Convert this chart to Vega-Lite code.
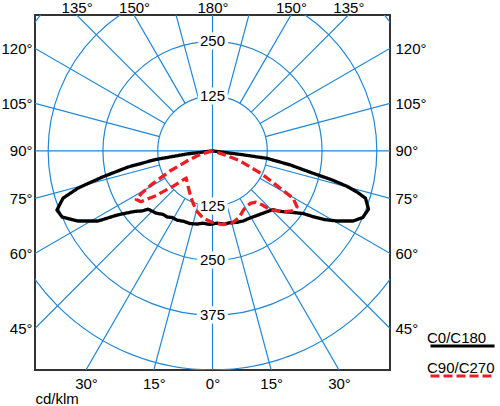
{
  "$schema": "https://vega.github.io/schema/vega-lite/v6.json",
  "width": 355,
  "height": 355,
  "autosize": {"type": "none"},
  "padding": {"left": 35, "top": 15, "right": 110, "bottom": 36},
  "resolve": {"axis": {"x": "independent", "y": "independent"}},
  "layer": [
    {
      "data": {"values": [{"ring": 125}, {"ring": 250}, {"ring": 375}, {"ring": 500}]},
      "mark": {"type": "arc", "filled": false, "stroke": "#1f86d6", "strokeWidth": 1.2, "theta": 0, "theta2": 6.2832, "clip": true},
      "encoding": {
        "x": {"datum": 0, "type": "quantitative", "scale": {"domain": [-405, 405], "nice": false, "zero": false}, "axis": null},
        "y": {"datum": 0, "type": "quantitative", "scale": {"domain": [-500, 310], "nice": false, "zero": false}, "axis": null},
        "radius": {"field": "ring", "type": "quantitative", "stack": null, "scale": {"type": "linear", "domain": [0, 810], "range": [0, 355], "zero": true}, "legend": null}
      }
    },
    {
      "data": {
        "values": [
          {"gamma": 0, "x0": 0, "y0": -1000, "x1": 0, "y1": 1000},
          {"gamma": 90, "x0": -1000, "y0": 0, "x1": 1000, "y1": 0},
          {"gamma": 15, "x0": -32.35, "y0": -120.74, "x1": -258.82, "y1": -965.93},
          {"gamma": 15, "x0": 32.35, "y0": -120.74, "x1": 258.82, "y1": -965.93},
          {"gamma": 30, "x0": -62.5, "y0": -108.25, "x1": -500, "y1": -866.03},
          {"gamma": 30, "x0": 62.5, "y0": -108.25, "x1": 500, "y1": -866.03},
          {"gamma": 45, "x0": -88.39, "y0": -88.39, "x1": -707.11, "y1": -707.11},
          {"gamma": 45, "x0": 88.39, "y0": -88.39, "x1": 707.11, "y1": -707.11},
          {"gamma": 60, "x0": -108.25, "y0": -62.5, "x1": -866.03, "y1": -500},
          {"gamma": 60, "x0": 108.25, "y0": -62.5, "x1": 866.03, "y1": -500},
          {"gamma": 75, "x0": -120.74, "y0": -32.35, "x1": -965.93, "y1": -258.82},
          {"gamma": 75, "x0": 120.74, "y0": -32.35, "x1": 965.93, "y1": -258.82},
          {"gamma": 105, "x0": -120.74, "y0": 32.35, "x1": -965.93, "y1": 258.82},
          {"gamma": 105, "x0": 120.74, "y0": 32.35, "x1": 965.93, "y1": 258.82},
          {"gamma": 120, "x0": -108.25, "y0": 62.5, "x1": -866.03, "y1": 500},
          {"gamma": 120, "x0": 108.25, "y0": 62.5, "x1": 866.03, "y1": 500},
          {"gamma": 135, "x0": -88.39, "y0": 88.39, "x1": -707.11, "y1": 707.11},
          {"gamma": 135, "x0": 88.39, "y0": 88.39, "x1": 707.11, "y1": 707.11},
          {"gamma": 150, "x0": -62.5, "y0": 108.25, "x1": -500, "y1": 866.03},
          {"gamma": 150, "x0": 62.5, "y0": 108.25, "x1": 500, "y1": 866.03},
          {"gamma": 165, "x0": -32.35, "y0": 120.74, "x1": -258.82, "y1": 965.93},
          {"gamma": 165, "x0": 32.35, "y0": 120.74, "x1": 258.82, "y1": 965.93}
        ]
      },
      "mark": {"type": "rule", "stroke": "#1f86d6", "strokeWidth": 1.2, "clip": true},
      "encoding": {
        "x": {
          "field": "x0", "type": "quantitative",
          "scale": {"domain": [-405, 405], "nice": false, "zero": false},
          "axis": {
            "orient": "bottom",
            "values": [-288.68, -133.97, 0, 133.97, 288.68],
            "labelExpr": "round(atan(abs(datum.value) / 500) * 180 / PI) + '°'",
            "labelPadding": 6,
            "title": "cd/klm",
            "titleAnchor": "start",
            "titleAlign": "left",
            "titlePadding": 0
          }
        },
        "x2": {"field": "x1"},
        "y": {
          "field": "y0", "type": "quantitative",
          "scale": {"domain": [-500, 310], "nice": false, "zero": false},
          "axis": {
            "orient": "left",
            "values": [-405, -233.83, -108.52, 0, 108.52, 233.83],
            "labelExpr": "round(90 + atan(datum.value / 405) * 180 / PI) + '°'",
            "labelPadding": 3,
            "title": null
          }
        },
        "y2": {"field": "y1"}
      }
    },
    {
      "data": {
        "values": [
          {"label": "250", "ring": 250},
          {"label": "125", "ring": 125},
          {"label": "125", "ring": -125},
          {"label": "250", "ring": -250},
          {"label": "375", "ring": -375}
        ]
      },
      "mark": {"type": "text", "fontSize": 15, "stroke": "white", "strokeWidth": 7, "fill": "white", "align": "center", "baseline": "middle"},
      "encoding": {
        "x": {"datum": 0, "type": "quantitative", "axis": null},
        "y": {"field": "ring", "type": "quantitative", "axis": null},
        "text": {"field": "label"}
      }
    },
    {
      "data": {
        "values": [
          {"label": "250", "ring": 250},
          {"label": "125", "ring": 125},
          {"label": "125", "ring": -125},
          {"label": "250", "ring": -250},
          {"label": "375", "ring": -375}
        ]
      },
      "mark": {"type": "text", "fontSize": 15, "fill": "black", "align": "center", "baseline": "middle"},
      "encoding": {
        "x": {"datum": 0, "type": "quantitative", "axis": null},
        "y": {"field": "ring", "type": "quantitative", "axis": null},
        "text": {"field": "label"}
      }
    },
    {
      "data": {
        "values": [
          {"plane": "C0/C180", "i": 1, "x": 0, "y": 0},
          {"plane": "C0/C180", "i": 2, "x": -58, "y": -7},
          {"plane": "C0/C180", "i": 3, "x": -131, "y": -20},
          {"plane": "C0/C180", "i": 4, "x": -193, "y": -37},
          {"plane": "C0/C180", "i": 5, "x": -252, "y": -60},
          {"plane": "C0/C180", "i": 6, "x": -307, "y": -85},
          {"plane": "C0/C180", "i": 7, "x": -341, "y": -108},
          {"plane": "C0/C180", "i": 8, "x": -355, "y": -135},
          {"plane": "C0/C180", "i": 9, "x": -343, "y": -151},
          {"plane": "C0/C180", "i": 10, "x": -307, "y": -160},
          {"plane": "C0/C180", "i": 11, "x": -261, "y": -160},
          {"plane": "C0/C180", "i": 12, "x": -216, "y": -146},
          {"plane": "C0/C180", "i": 13, "x": -177, "y": -138},
          {"plane": "C0/C180", "i": 14, "x": -160, "y": -137},
          {"plane": "C0/C180", "i": 15, "x": -147, "y": -133},
          {"plane": "C0/C180", "i": 16, "x": -129, "y": -142},
          {"plane": "C0/C180", "i": 17, "x": -113, "y": -145},
          {"plane": "C0/C180", "i": 18, "x": -103, "y": -151},
          {"plane": "C0/C180", "i": 19, "x": -92, "y": -152},
          {"plane": "C0/C180", "i": 20, "x": -81, "y": -158},
          {"plane": "C0/C180", "i": 21, "x": -65, "y": -161},
          {"plane": "C0/C180", "i": 22, "x": -51, "y": -166},
          {"plane": "C0/C180", "i": 23, "x": -35, "y": -167},
          {"plane": "C0/C180", "i": 24, "x": -22, "y": -165},
          {"plane": "C0/C180", "i": 25, "x": -6, "y": -168},
          {"plane": "C0/C180", "i": 26, "x": 10, "y": -165},
          {"plane": "C0/C180", "i": 27, "x": 26, "y": -167},
          {"plane": "C0/C180", "i": 28, "x": 40, "y": -164},
          {"plane": "C0/C180", "i": 29, "x": 56, "y": -163},
          {"plane": "C0/C180", "i": 30, "x": 70, "y": -160},
          {"plane": "C0/C180", "i": 31, "x": 86, "y": -153},
          {"plane": "C0/C180", "i": 32, "x": 97, "y": -149},
          {"plane": "C0/C180", "i": 33, "x": 108, "y": -145},
          {"plane": "C0/C180", "i": 34, "x": 124, "y": -139},
          {"plane": "C0/C180", "i": 35, "x": 138, "y": -134},
          {"plane": "C0/C180", "i": 36, "x": 154, "y": -138},
          {"plane": "C0/C180", "i": 37, "x": 177, "y": -140},
          {"plane": "C0/C180", "i": 38, "x": 207, "y": -143},
          {"plane": "C0/C180", "i": 39, "x": 229, "y": -150},
          {"plane": "C0/C180", "i": 40, "x": 257, "y": -157},
          {"plane": "C0/C180", "i": 41, "x": 284, "y": -160},
          {"plane": "C0/C180", "i": 42, "x": 321, "y": -160},
          {"plane": "C0/C180", "i": 43, "x": 343, "y": -152},
          {"plane": "C0/C180", "i": 44, "x": 356, "y": -133},
          {"plane": "C0/C180", "i": 45, "x": 349, "y": -108},
          {"plane": "C0/C180", "i": 46, "x": 330, "y": -94},
          {"plane": "C0/C180", "i": 47, "x": 307, "y": -81},
          {"plane": "C0/C180", "i": 48, "x": 272, "y": -66},
          {"plane": "C0/C180", "i": 49, "x": 229, "y": -51},
          {"plane": "C0/C180", "i": 50, "x": 177, "y": -32},
          {"plane": "C0/C180", "i": 51, "x": 124, "y": -17},
          {"plane": "C0/C180", "i": 52, "x": 63, "y": -8},
          {"plane": "C0/C180", "i": 53, "x": 0, "y": 0},
          {"plane": "C90/C270", "i": 1, "x": 0, "y": 0},
          {"plane": "C90/C270", "i": 2, "x": -28, "y": -8},
          {"plane": "C90/C270", "i": 3, "x": -56, "y": -22},
          {"plane": "C90/C270", "i": 4, "x": -97, "y": -46},
          {"plane": "C90/C270", "i": 5, "x": -138, "y": -76},
          {"plane": "C90/C270", "i": 6, "x": -163, "y": -98},
          {"plane": "C90/C270", "i": 7, "x": -174, "y": -111},
          {"plane": "C90/C270", "i": 8, "x": -163, "y": -116},
          {"plane": "C90/C270", "i": 9, "x": -131, "y": -103},
          {"plane": "C90/C270", "i": 10, "x": -92, "y": -82},
          {"plane": "C90/C270", "i": 11, "x": -60, "y": -62},
          {"plane": "C90/C270", "i": 12, "x": -56, "y": -80},
          {"plane": "C90/C270", "i": 13, "x": -49, "y": -107},
          {"plane": "C90/C270", "i": 14, "x": -38, "y": -135},
          {"plane": "C90/C270", "i": 15, "x": -22, "y": -153},
          {"plane": "C90/C270", "i": 16, "x": -1, "y": -163},
          {"plane": "C90/C270", "i": 17, "x": 22, "y": -168},
          {"plane": "C90/C270", "i": 18, "x": 44, "y": -165},
          {"plane": "C90/C270", "i": 19, "x": 60, "y": -153},
          {"plane": "C90/C270", "i": 20, "x": 72, "y": -133},
          {"plane": "C90/C270", "i": 21, "x": 86, "y": -120},
          {"plane": "C90/C270", "i": 22, "x": 99, "y": -117},
          {"plane": "C90/C270", "i": 23, "x": 113, "y": -123},
          {"plane": "C90/C270", "i": 24, "x": 131, "y": -134},
          {"plane": "C90/C270", "i": 25, "x": 159, "y": -139},
          {"plane": "C90/C270", "i": 26, "x": 181, "y": -137},
          {"plane": "C90/C270", "i": 27, "x": 193, "y": -128},
          {"plane": "C90/C270", "i": 28, "x": 184, "y": -108},
          {"plane": "C90/C270", "i": 29, "x": 154, "y": -85},
          {"plane": "C90/C270", "i": 30, "x": 113, "y": -53},
          {"plane": "C90/C270", "i": 31, "x": 63, "y": -23},
          {"plane": "C90/C270", "i": 32, "x": 28, "y": -9},
          {"plane": "C90/C270", "i": 33, "x": 0, "y": 0}
        ]
      },
      "mark": {"type": "line", "strokeWidth": 3.3, "strokeJoin": "round", "interpolate": "linear"},
      "encoding": {
        "x": {
          "field": "x", "type": "quantitative",
          "scale": {"domain": [-405, 405], "nice": false, "zero": false},
          "axis": {
            "orient": "top",
            "values": [-310, -178.98, 0, 178.98, 310],
            "labelExpr": "round(180 - atan(abs(datum.value) / 310) * 180 / PI) + '°'",
            "labelPadding": 0,
            "title": null
          }
        },
        "y": {
          "field": "y", "type": "quantitative",
          "scale": {"domain": [-500, 310], "nice": false, "zero": false},
          "axis": {
            "orient": "right",
            "values": [-405, -233.83, -108.52, 0, 108.52, 233.83],
            "labelExpr": "round(90 + atan(datum.value / 405) * 180 / PI) + '°'",
            "labelPadding": 5,
            "title": null
          }
        },
        "order": {"field": "i", "type": "quantitative"},
        "color": {
          "field": "plane", "type": "nominal",
          "scale": {"domain": ["C0/C180", "C90/C270"], "range": ["#000000", "#ee1c24"]},
          "legend": {"title": null, "orient": "none", "legendX": 394, "legendY": 316, "clipHeight": 30, "rowPadding": -10}
        },
        "strokeDash": {
          "field": "plane", "type": "nominal",
          "scale": {"domain": ["C0/C180", "C90/C270"], "range": [[1, 0], [9, 4]]},
          "legend": {"title": null, "orient": "none", "legendX": 394, "legendY": 316, "clipHeight": 30, "rowPadding": -10}
        }
      }
    }
  ],
  "config": {
    "view": {"stroke": "#333333", "strokeWidth": 2},
    "axis": {
      "ticks": false,
      "domain": false,
      "grid": false,
      "labelFont": "Liberation Sans",
      "labelFontSize": 15,
      "labelColor": "#000000",
      "labelOverlap": false,
      "labelFlush": false,
      "labelBound": false,
      "titleFont": "Liberation Sans",
      "titleFontSize": 15,
      "titleFontWeight": "normal",
      "titleColor": "#000000"
    },
    "legend": {
      "symbolType": "stroke",
      "symbolSize": 5625,
      "symbolStrokeWidth": 3,
      "labelOffset": -80,
      "labelBaseline": "bottom",
      "labelFont": "Liberation Sans",
      "labelFontSize": 15,
      "labelColor": "#000000",
      "padding": 0
    },
    "text": {"font": "Liberation Sans"}
  }
}
